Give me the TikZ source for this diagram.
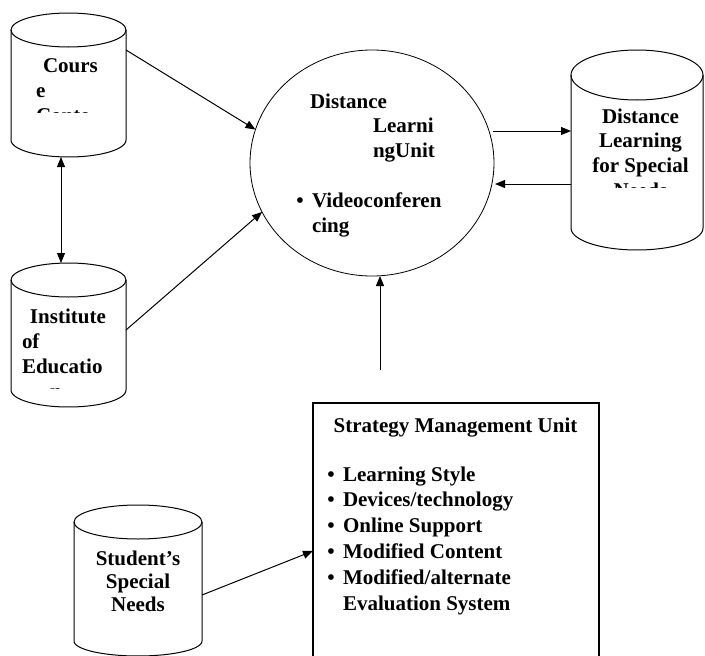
\documentclass[tikz,border=0pt]{standalone}
\usepackage{fontspec}
\setmainfont{Liberation Serif}
\usetikzlibrary{arrows.meta,shapes.geometric}
\newcommand\drawcyl[6]{%
  \draw[shapeline] ({(#1+#2)/2},#3) ellipse ({(#2-#1)/2} and #4);
  \draw[shapeline] (#1,#3) -- (#1,#5)
    plot[domain=180:0,samples=60] ({(#1+#2)/2+(#2-#1)/2*cos(\x)},{#5+#6*sin(\x)})
    -- (#2,#3);
}
\begin{document}
\begin{tikzpicture}[x=1pt,y=-1pt,
  every node/.style={font=\fontsize{21}{24.5}\selectfont\bfseries, inner sep=0pt, outer sep=0pt},
  lt/.style={anchor=base west},
  ct/.style={anchor=base},
  body/.style={draw=none},
  shapeline/.style={line width=1pt},
  arr/.style={line width=1pt, -{Triangle[length=10pt,width=8pt]}},
  darr/.style={line width=1pt, {Triangle[length=10pt,width=8pt]}-{Triangle[length=10pt,width=8pt]}}]
\useasboundingbox (0,0) rectangle (705,656);

% cylinders
\drawcyl{11}{126}{30}{17}{140}{17}
\drawcyl{11}{126}{280}{17}{390}{17}
\drawcyl{571}{703}{75}{25}{228}{22}
\drawcyl{74}{202}{522}{17}{641}{15}
\node[body, minimum width=115pt, minimum height=144pt] (cc) at (68.5,85) {};
\node[body, minimum width=115pt, minimum height=144pt] (ie) at (68.5,335) {};
\node[body, minimum width=132pt, minimum height=200pt] (dlsn) at (637,150) {};
\node[body, minimum width=128pt, minimum height=151pt] (ssn) at (138,580.5) {};

% ellipse
\node[draw, ellipse, line width=0.8pt, minimum width=244pt, minimum height=226pt] (dlu) at (372,163) {};

% box
\node[body, minimum width=286pt, minimum height=256pt] (smu) at (456,531) {};
\draw[line width=1.2pt] (smu.south west) -- (smu.north west) -- (smu.north east) -- (smu.south east);

% texts in cylinders
\begin{scope}
  \clip (11,13) rectangle (126,112);
  \node[lt] at (43,72) {Cours};
  \node[lt] at (36,97) {e};
  \node[lt] at (36,122) {Conte};
\end{scope}
\begin{scope}
  \clip (11,263) rectangle (126,388.5);
  \node[lt] at (30,323) {Institute};
  \node[lt] at (22,348) {of};
  \node[lt] at (22,373) {Educatio};
  \node[lt] at (50,398) {n};
\end{scope}
\begin{scope}
  \clip (571,50) rectangle (703,187);
  \node[ct] at (640.5,123) {Distance};
  \node[ct] at (640.5,147) {Learning};
  \node[ct] at (640.5,172) {for Special};
  \node[ct] at (640.5,197) {Needs};
\end{scope}
\node[ct] at (138,565) {Student’s};
\node[ct] at (138,588) {Special};
\node[ct] at (138,611) {Needs};

% texts in ellipse
\node[lt] at (310,108) {Distance};
\node[lt] at (373,132) {Learni};
\node[lt] at (373,157) {ngUnit};
\node[ct] at (300,207) {•};
\node[lt] at (312,207) {Videoconferen};
\node[lt] at (312,232) {cing};

% texts in box
\node[ct] at (455.5,432) {Strategy Management Unit};
\foreach \yy/\lbl in {481/{Learning Style},506/{Devices/technology},532/{Online Support},558/{Modified Content},584/{Modified/alternate}}{
  \node[ct] at (331,\yy) {•};
  \node[lt] at (343,\yy) {\lbl};
}
\node[lt] at (343,610) {Evaluation System};

% connectors
\draw[arr] (cc.east |- 0,50) -- (dlu.164);
\draw[arr] (ie.east |- 0,330) -- (dlu.204.2);
\draw[darr] (cc.south -| 61,0) -- (ie.north -| 61,0);
\coordinate (dlr1) at (493,131);
\coordinate (dlr2) at (495,184);
\draw[arr] (dlr1) -- (dlsn.west |- dlr1);
\draw[arr] (dlsn.west |- dlr2) -- (dlr2);
\coordinate (smutop) at (380,370);
\draw[arr] (smutop) -- (smutop |- dlu.south);
\draw[arr] (ssn.east |- 0,595) -- (smu.west |- 0,551);
\end{tikzpicture}
\end{document}
